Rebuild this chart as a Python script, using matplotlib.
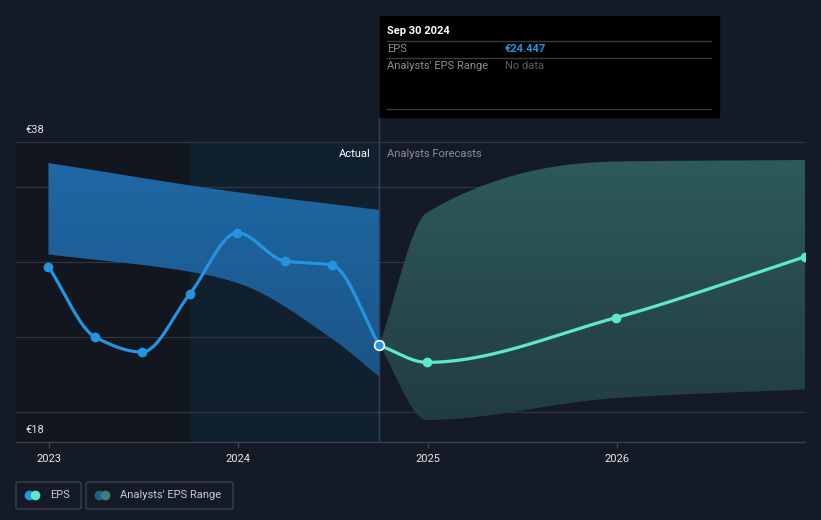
import numpy as np
import pandas as pd
import matplotlib
matplotlib.use("Agg")
import matplotlib.pyplot as plt
import matplotlib.dates as mdates
from matplotlib.colors import LinearSegmentedColormap
from matplotlib.lines import Line2D
from matplotlib.patches import Rectangle, FancyBboxPatch

plt.rcParams['font.family'] = ['Roboto', 'DejaVu Sans']

# --- data ---
actual_dates = ['2022-12-31', '2023-03-31', '2023-06-30', '2023-09-30',
                '2023-12-31', '2024-03-31', '2024-06-30', '2024-09-30']
actual_eps = [29.7, 25.0, 24.0, 27.87, 31.95, 30.07, 29.8, 24.447]

past_high_dates = ['2022-12-31', '2023-12-31', '2024-09-30']
past_range_high = [36.6, 34.65, 33.47]
past_low_dates = ['2022-12-31', '2023-09-30', '2023-12-31', '2024-06-30', '2024-09-30']
past_range_low = [30.5, 29.35, 28.6, 24.9, 22.35]

fc_dates = ['2024-09-30', '2024-12-31', '2025-12-31', '2026-12-31']
fc_eps = [24.447, 23.31, 26.29, 30.35]
fc_high = [24.447, 33.3, 36.7, 36.8]
fc_low = [24.447, 19.47, 20.93, 21.51]

year_ticks = ['2023', '2024', '2025', '2026']

BG = '#151b26'
BLUE = '#2394df'
TEAL = '#5ee6cf'


def monotone(x, y, xs):
    x = np.asarray(x, float)
    y = np.asarray(y, float)
    h = np.diff(x)
    d = np.diff(y) / h
    m = np.zeros_like(y)
    m[0], m[-1] = d[0], d[-1]
    for k in range(1, len(y) - 1):
        if d[k - 1] * d[k] <= 0:
            m[k] = 0
        else:
            w1 = 2 * h[k] + h[k - 1]
            w2 = h[k] + 2 * h[k - 1]
            m[k] = (w1 + w2) / (w1 / d[k - 1] + w2 / d[k])
    idx = np.clip(np.searchsorted(x, xs) - 1, 0, len(h) - 1)
    t = (xs - x[idx]) / h[idx]
    h00 = 2 * t**3 - 3 * t**2 + 1
    h10 = t**3 - 2 * t**2 + t
    h01 = -2 * t**3 + 3 * t**2
    h11 = t**3 - t**2
    return h00 * y[idx] + h10 * h[idx] * m[idx] + h01 * y[idx + 1] + h11 * h[idx] * m[idx + 1]


def num(dates):
    return mdates.date2num(pd.to_datetime(dates))


def gradient_band(ax, xs, ys_lo, ys_hi, top, bottom, z):
    poly = ax.fill_between(xs, ys_lo, ys_hi, color='none', lw=0)
    cmap = LinearSegmentedColormap.from_list('g', [bottom, top])
    grad = np.linspace(0, 1, 256).reshape(-1, 1)
    im = ax.imshow(grad, extent=[xs[0], xs[-1], 18, 38], origin='lower',
                   aspect='auto', cmap=cmap, zorder=z)
    im.set_clip_path(poly.get_paths()[0], transform=ax.transData)


fig = plt.figure(figsize=(8.21, 5.2), dpi=100)
fig.patch.set_facecolor(BG)

W, H = 821, 520
# axes span pixels x 16..805, y 442 (18) .. 118
ymax = 18 + (442 - 118) / 15
ax = fig.add_axes([16 / W, (H - 442) / H, (805 - 16) / W, (442 - 118) / H])
ax.set_facecolor(BG)

xa = num(actual_dates)
xf = num(fc_dates)
x_left = num(['2023-01-01'])[0] - 33 / 189.3 * 365.25
x_right = num(['2026-12-31'])[0]

# background regions
ax.axvspan(x_left, num(['2023-09-30'])[0], ymin=0, ymax=20 / (ymax - 18),
           color='#11161f', zorder=0, lw=0)
ax.axvspan(num(['2023-09-30'])[0], xa[-1], ymin=0, ymax=20 / (ymax - 18),
           color='#11202f', zorder=0, lw=0)

# grid
for v in [20, 25, 30, 35, 38]:
    ax.axhline(v, color='#2f3641', lw=0.9, zorder=1)

# bands
xs = np.linspace(xa[0], xa[-1], 300)
gradient_band(ax, xs, monotone(num(past_low_dates), past_range_low, xs),
              monotone(num(past_high_dates), past_range_high, xs),
              '#1f6aa8', '#1b4f7e', 2)
xs = np.linspace(xf[0], xf[-1], 300)
gradient_band(ax, xs, monotone(xf, fc_low, xs), monotone(xf, fc_high, xs),
              '#2e5c5c', '#213a3e', 2)

# separator line
ax.axvline(xa[-1], color='#2a4560', lw=1, zorder=3)

# lines
xs = np.linspace(xa[0], xa[-1], 300)
ax.plot(xs, monotone(xa, actual_eps, xs), color=BLUE, lw=2.3, zorder=4,
        solid_capstyle='round')
ax.plot(xa[:-1], actual_eps[:-1], 'o', color=BLUE, ms=6, zorder=5)
xs = np.linspace(xf[0], xf[-1], 300)
ax.plot(xs, monotone(xf, fc_eps, xs), color=TEAL, lw=2.3, zorder=4,
        solid_capstyle='round')
ax.plot(xf[1:], fc_eps[1:], 'o', color=TEAL, ms=6, zorder=5)
ax.plot(xa[-1], actual_eps[-1], 'o', color=BLUE, mec='white', mew=1.2, ms=7, zorder=6)

ax.set_xlim(x_left, x_right)
ax.set_ylim(18, ymax)

for s in ['top', 'right', 'left']:
    ax.spines[s].set_visible(False)
ax.spines['bottom'].set_color('#3a404b')
ax.spines['bottom'].set_linewidth(1)
ax.set_yticks([])
ax.set_xticks(num([y + '-01-01' for y in year_ticks]))
ax.set_xticklabels(year_ticks)
ax.tick_params(axis='x', colors='#3a404b', length=4, width=1, labelcolor='#e8e8e8',
               labelsize=8, pad=5)


def ftext(x, y, s, **kw):
    fig.text(x / W, 1 - y / H, s, va='center', **kw)


ftext(25, 130, '€38', color='#e0e0e0', fontsize=8)
ftext(25, 430, '€18', color='#e0e0e0', fontsize=8)
ftext(371, 154, 'Actual', color='#ffffff', fontsize=8, ha='right')
ftext(387, 154, 'Analysts Forecasts', color='#8c9096', fontsize=8)

# tooltip
fig.patches.append(Rectangle((380 / W, 1 - 117 / H), (719 - 380) / W, (117 - 16) / H,
                             transform=fig.transFigure, color='#000000', zorder=10))
for yy in [41, 58, 109]:
    fig.add_artist(Line2D([387 / W, 711 / W], [1 - yy / H] * 2, color='#3a3a3a',
                          lw=1, transform=fig.transFigure, zorder=11))
fig.text(387 / W, 1 - 31 / H, 'Sep 30 2024', color='#ffffff', fontsize=8,
         fontweight='bold', va='center', zorder=12)
fig.text(387 / W, 1 - 49 / H, 'EPS', color='#8c9096', fontsize=8, va='center', zorder=12)
fig.text(505 / W, 1 - 49 / H, '€24.447', color=BLUE, fontsize=8, fontweight='bold',
         va='center', zorder=12)
fig.text(387 / W, 1 - 66 / H, "Analysts' EPS Range", color='#8c9096', fontsize=8,
         va='center', zorder=12)
fig.text(505 / W, 1 - 66 / H, 'No data', color='#5a5e64', fontsize=8, va='center',
         zorder=12)

# legend
for x0, x1 in [(16, 81), (86, 233)]:
    fig.patches.append(FancyBboxPatch((x0 / W, 1 - 509 / H), (x1 - x0) / W, 27 / H,
                                      boxstyle='round,pad=0,rounding_size=0.003',
                                      transform=fig.transFigure, fc='none',
                                      ec='#3a3f4a', lw=1))
for cx, col in [(29, BLUE), (35, TEAL), (99, '#1f5f8f'), (105, '#3a7f7a')]:
    fig.add_artist(Line2D([cx / W], [1 - 495 / H], marker='o', ms=7, color=col,
                          mec='none', transform=fig.transFigure))
ftext(50, 495, 'EPS', color='#c8cacc', fontsize=8)
ftext(120, 495, "Analysts' EPS Range", color='#c8cacc', fontsize=8)

fig.savefig('out.png', dpi=100, facecolor=BG)
